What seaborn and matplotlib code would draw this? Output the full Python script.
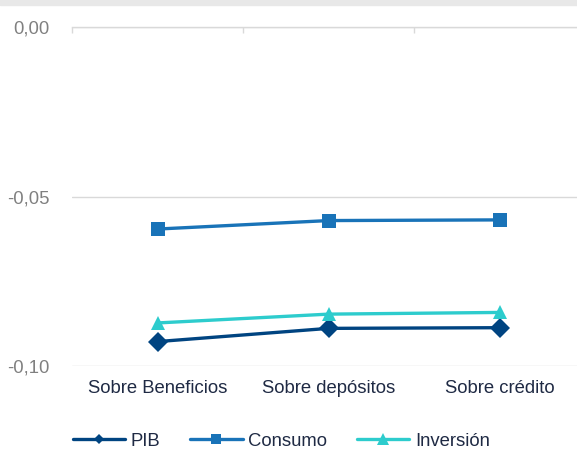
import pandas as pd
import seaborn as sns
import matplotlib.pyplot as plt
from matplotlib.lines import Line2D
from matplotlib.patches import Rectangle
from matplotlib.ticker import FuncFormatter

categorias = ['Sobre Beneficios', 'Sobre depósitos', 'Sobre crédito']
pib = [-0.0928, -0.0889, -0.0887]
consumo = [-0.0596, -0.0571, -0.0569]
inversion = [-0.0873, -0.0847, -0.0842]

series = ['PIB', 'Consumo', 'Inversión']
colores = {'PIB': '#004481', 'Consumo': '#1973B8', 'Inversión': '#2DCCCD'}
marcadores = {'PIB': 'D', 'Consumo': 's', 'Inversión': '^'}

df = pd.DataFrame({
    'cat': categorias * 3,
    'valor': pib + consumo + inversion,
    'serie': ['PIB'] * 3 + ['Consumo'] * 3 + ['Inversión'] * 3,
})

sns.set_style('white')
plt.rcParams['font.family'] = ['Liberation Sans', 'DejaVu Sans']
fs = 13.3

fig = plt.figure(figsize=(5.77, 4.53), dpi=100)
ax = fig.add_axes([72 / 577, 1 - 366 / 453, 513 / 577, (366 - 27) / 453])

sns.lineplot(data=df, x='cat', y='valor', hue='serie', style='serie',
             palette=colores, markers=marcadores, dashes=False, sort=False,
             linewidth=2.4, markersize=10.5, markeredgewidth=0, legend=False, ax=ax)

ax.set_xlim(-0.5, 2.5)
ax.set_ylim(-0.10, 0.0)
ax.set_yticks([0.0, -0.05, -0.10])
ax.yaxis.set_major_formatter(FuncFormatter(lambda v, p: f'{v:.2f}'.replace('.', ',')))
ax.yaxis.grid(True, color='#d9d9d9', linewidth=1)
ax.set_xlabel('')
ax.set_ylabel('')

for s in ['left', 'right', 'bottom']:
    ax.spines[s].set_visible(False)
ax.spines['top'].set_color('#d9d9d9')
ax.spines['top'].set_linewidth(1)

ax.tick_params(axis='y', length=0, labelsize=fs, labelcolor='#808080', pad=16)
ax.tick_params(axis='x', length=0, labelsize=fs, labelcolor='#1f2a44', pad=10)
ax.set_xticks([0, 1, 2])
ax.set_xticks([-0.5, 0.5, 1.5, 2.5], minor=True)
ax.tick_params(axis='x', which='minor', top=True, bottom=False, direction='in',
               length=4, color='#d9d9d9', width=1)

fig.patches.append(Rectangle((0, 1 - 5 / 453), 1, 5 / 453, transform=fig.transFigure,
                             color='#e8e8e8', zorder=0))

handles = [
    Line2D([], [], color=colores['PIB'], marker='D', markersize=5, linewidth=2.4, markeredgewidth=0),
    Line2D([], [], color=colores['Consumo'], marker='s', markersize=7, linewidth=2.4, markeredgewidth=0),
    Line2D([], [], color=colores['Inversión'], marker='^', markersize=8, linewidth=2.4, markeredgewidth=0),
]
leg = fig.legend(handles, series, loc='center left', bbox_to_anchor=(56 / 577, 1 - 441 / 453),
                 ncol=3, frameon=False, fontsize=fs, handlelength=2.85, handletextpad=0.3,
                 columnspacing=1.6)
for t in leg.get_texts():
    t.set_color('#1f2a44')

fig.savefig('out.png', dpi=100)
